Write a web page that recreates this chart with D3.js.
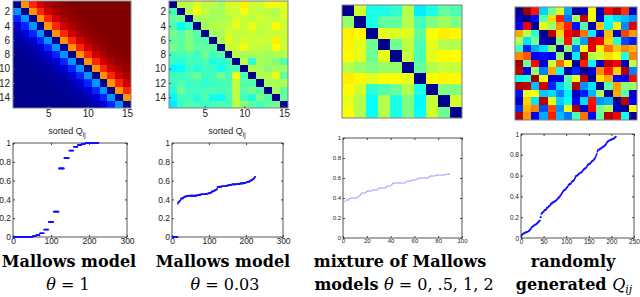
<!DOCTYPE html>
<html><head><meta charset="utf-8">
<script src="https://cdn.jsdelivr.net/npm/d3@7"></script>
<style>body{margin:0;background:#fff}svg{display:block}</style>
</head><body>
<script>
// ---- DATA ----
// Mallows model theta = 1 (pairwise matrix Q_ij)
const qMallows1 = [
 [0,.73,.84,.92,.96,.98,.99,1,1,1,1,1,1,1,1],
 [.27,0,.73,.84,.92,.96,.98,.99,1,1,1,1,1,1,1],
 [.16,.27,0,.73,.84,.92,.96,.98,.99,1,1,1,1,1,1],
 [.08,.16,.27,0,.73,.84,.92,.96,.98,.99,1,1,1,1,1],
 [.04,.08,.16,.27,0,.73,.84,.92,.96,.98,.99,1,1,1,1],
 [.02,.04,.08,.16,.27,0,.73,.84,.92,.96,.98,.99,1,1,1],
 [.01,.02,.04,.08,.16,.27,0,.73,.84,.92,.96,.98,.99,1,1],
 [0,.01,.02,.04,.08,.16,.27,0,.73,.84,.92,.96,.98,.99,1],
 [0,0,.01,.02,.04,.08,.16,.27,0,.73,.84,.92,.96,.98,.99],
 [0,0,0,.01,.02,.04,.08,.16,.27,0,.73,.84,.92,.96,.98],
 [0,0,0,0,.01,.02,.04,.08,.16,.27,0,.73,.84,.92,.96],
 [0,0,0,0,0,.01,.02,.04,.08,.16,.27,0,.73,.84,.92],
 [0,0,0,0,0,0,.01,.02,.04,.08,.16,.27,0,.73,.84],
 [0,0,0,0,0,0,0,.01,.02,.04,.08,.16,.27,0,.73],
 [0,0,0,0,0,0,0,0,.01,.02,.04,.08,.16,.27,0]
];
// Mallows model theta = 0.03
const qMallows003 = [
 [0,.56,.55,.59,.56,.555,.53,.58,.585,.64,.575,.57,.61,.62,.6],
 [.44,0,.555,.62,.565,.54,.535,.58,.565,.615,.57,.565,.56,.545,.59],
 [.47,.49,0,.535,.54,.53,.545,.55,.59,.57,.56,.585,.565,.56,.59],
 [.45,.38,.43,0,.535,.555,.55,.565,.6,.57,.605,.565,.57,.63,.575],
 [.49,.455,.5,.46,0,.53,.54,.59,.56,.565,.575,.56,.57,.565,.575],
 [.465,.47,.495,.46,.455,0,.54,.6,.565,.585,.57,.58,.575,.64,.57],
 [.5,.46,.505,.47,.465,.47,0,.56,.585,.61,.57,.565,.56,.625,.575],
 [.44,.445,.455,.43,.485,.44,.455,0,.555,.535,.54,.545,.53,.54,.555],
 [.43,.41,.44,.435,.445,.405,.415,.44,0,.56,.42,.54,.535,.505,.455],
 [.37,.375,.435,.41,.44,.43,.39,.44,.445,0,.55,.54,.51,.535,.53],
 [.44,.435,.445,.48,.435,.44,.485,.44,.61,.45,0,.545,.555,.6,.465],
 [.435,.45,.43,.44,.42,.435,.44,.45,.555,.46,.455,0,.54,.535,.545],
 [.41,.485,.44,.435,.445,.45,.44,.455,.56,.455,.49,.46,0,.54,.47],
 [.37,.44,.44,.41,.455,.39,.385,.445,.56,.44,.41,.495,.455,0,.475],
 [.355,.43,.455,.44,.435,.44,.455,.44,.55,.51,.46,.44,.465,.485,0]
];
// mixture of Mallows models theta = 0,.5,1,2
const qMixture = [
 [0,.58,.4,.4,.42,.55,.36,.4,.47,.45],
 [.52,0,.4,.47,.47,.55,.44,.5,.53,.5],
 [.64,.63,0,.6,.59,.59,.47,.62,.64,.63],
 [.635,.6,.48,0,.48,.56,.45,.6,.55,.55],
 [.63,.6,.48,.6,0,.57,.45,.6,.63,.625],
 [.55,.52,.5,.52,.52,0,.47,.55,.57,.57],
 [.64,.63,.6,.62,.62,.6,0,.62,.635,.63],
 [.63,.58,.42,.45,.48,.55,.4,0,.5,.5],
 [.6,.55,.38,.55,.4,.5,.37,.57,0,.58],
 [.62,.55,.38,.55,.4,.5,.38,.58,.48,0]
];
// randomly generated Q_ij
const qRandom = [
 [0,.97,.86,.33,.48,.59,.29,.02,.05,.63,.035,.88,.95,.83,.045],
 [.06,0,.13,.46,.66,.85,.24,.54,.93,.61,.07,.39,.34,.31,.27],
 [.11,.89,0,.6,.53,.73,.84,.14,.45,.03,.68,.37,.64,.26,.9],
 [.71,.56,.42,0,.94,.66,.89,.92,.76,.36,.08,.69,.055,.81,.72],
 [.55,.35,.49,.04,0,.5,.86,.44,.28,.91,.87,.67,.41,.2,.15],
 [.43,.16,.29,.35,.52,0,.51,.23,.62,.9,.64,.77,.68,.74,.7],
 [.74,.79,.1,.14,.12,.52,0,.36,.96,.55,.58,.66,.62,.4,.75],
 [.975,.48,.87,.065,.57,.78,.63,0,.85,.37,.06,.94,.88,.04,.56],
 [.94,.09,.52,.25,.71,.39,.045,.16,0,.075,.74,.85,.67,.95,.25],
 [.38,.41,.97,.63,.085,.105,.47,.6,.93,0,.65,.71,.13,.115,.87],
 [.96,.93,.31,.92,.16,.33,.43,.945,.27,.35,0,.46,.72,.51,.52],
 [.135,.6,.62,.32,.34,.25,.36,.055,.15,.3,.54,0,.71,.46,.05],
 [.06,.67,.35,.945,.6,.33,.38,.125,.34,.86,.27,.3,0,.94,.12],
 [.17,.7,.75,.2,.8,.27,.61,.955,.055,.88,.49,.55,.065,0,.63],
 [.955,.73,.11,.29,.85,.31,.24,.45,.76,.13,.47,.95,.88,.39,0]
];
const heatYTicks = [2,4,6,8,10,12,14];
const heatXTicks = [5,10,15];
const yTicks = [0,0.2,0.4,0.6,0.8,1];
const xTicks300 = [0,100,200,300];
const xTicks100 = [0,20,40,60,80,100];
const xTicks250 = [0,50,100,150,200,250];
const captionLine1 = ["Mallows model","Mallows model","mixture of Mallows","randomly"];

// ---- DRAWING ----
const svg = d3.select("body").append("svg").attr("width",640).attr("height",297)
  .style("font-family","'Liberation Sans', Arial, sans-serif");

const jet = d3.scaleLinear()
  .domain([0,0.125,0.375,0.625,0.875,1])
  .range(["#00008f","#0000ff","#00ffff","#ffff00","#ff0000","#800000"])
  .clamp(true);

function styleAxis(g, fs){
  g.select(".domain").remove();
  g.selectAll(".tick line").attr("stroke","#444");
  g.selectAll(".tick text").attr("fill","#222").style("font-size",fs+"px");
}

function heatmap(m, b, showAxes){
  const n = m.length;
  const x = d3.scaleBand().domain(d3.range(1,n+1)).range([b.x0,b.x1]);
  const y = d3.scaleBand().domain(d3.range(1,n+1)).range([b.y0,b.y1]);
  const g = svg.append("g");
  const cells = m.flatMap((row,i)=>row.map((v,j)=>({r:i+1,c:j+1,v})));
  g.selectAll("rect.cell").data(cells).join("rect").attr("class","cell")
    .attr("x",d=>x(d.c)).attr("y",d=>y(d.r))
    .attr("width",x.bandwidth()+0.4).attr("height",y.bandwidth()+0.4)
    .attr("fill",d=>jet(d.v)).attr("shape-rendering","crispEdges");
  if(showAxes){
    const xl = d3.scaleLinear().domain([0.5,n+0.5]).range([b.x0,b.x1]);
    const yl = d3.scaleLinear().domain([0.5,n+0.5]).range([b.y0,b.y1]);
    g.append("g").attr("transform",`translate(${b.x0},0)`)
      .call(d3.axisLeft(yl).tickValues(heatYTicks).tickSize(-2).tickPadding(3))
      .call(a=>styleAxis(a,10));
    g.append("g").attr("transform",`translate(0,${b.y1})`)
      .call(d3.axisBottom(xl).tickValues(heatXTicks).tickSize(-2).tickPadding(2))
      .call(a=>styleAxis(a,10));
  }
  g.append("rect").attr("x",b.x0).attr("y",b.y0).attr("width",b.x1-b.x0).attr("height",b.y1-b.y0)
    .attr("fill","none").attr("stroke","#808080").attr("stroke-width",1);
}

function sortedPlot(vals, b, xDomain, xTicks, fs, mode){
  const x = d3.scaleLinear().domain(xDomain).range([b.x0,b.x1]);
  const y = d3.scaleLinear().domain([0,1]).range([b.y1,b.y0]);
  const g = svg.append("g");
  g.append("rect").attr("x",b.x0).attr("y",b.y0).attr("width",b.x1-b.x0).attr("height",b.y1-b.y0)
    .attr("fill","#fff").attr("stroke","#555").attr("stroke-width",1);
  g.append("g").attr("transform",`translate(0,${b.y1})`)
    .call(d3.axisBottom(x).tickValues(xTicks).tickSize(-2).tickPadding(1).tickFormat(d3.format("d")))
    .call(a=>styleAxis(a,fs));
  g.append("g").attr("transform",`translate(${b.x0},0)`)
    .call(d3.axisLeft(y).tickValues(yTicks).tickSize(-2).tickPadding(2).tickFormat(d3.format("~g")))
    .call(a=>styleAxis(a,fs));
  g.append("g").attr("transform",`translate(0,${b.y0})`)
    .call(d3.axisTop(x).tickValues(xTicks).tickSize(-2).tickFormat(""))
    .call(a=>styleAxis(a,fs));
  g.append("g").attr("transform",`translate(${b.x1},0)`)
    .call(d3.axisRight(y).tickValues(yTicks).tickSize(-2).tickFormat(""))
    .call(a=>styleAxis(a,fs));
  const pts = vals.map((v,k)=>[k+1,v]);
  if(mode==="line"){
    g.append("path").datum(pts).attr("fill","none").attr("stroke","#8c8cff").attr("stroke-width",1)
      .attr("d",d3.line().x(d=>x(d[0])).y(d=>y(d[1])));
  } else {
    g.selectAll("circle").data(pts).join("circle")
      .attr("cx",d=>x(d[0])).attr("cy",d=>y(d[1])).attr("r",0.85).attr("fill","#1010ff");
  }
  return g;
}

function sortedValues(m, withDiag){
  const out = [];
  m.forEach((row,i)=>row.forEach((v,j)=>{ if(withDiag || i!==j) out.push(v); }));
  return d3.sort(out);
}

heatmap(qMallows1, {x0:13,x1:131,y0:1,y1:108}, true);
heatmap(qMallows003, {x0:169,x1:288,y0:1,y1:108}, true);
heatmap(qMixture, {x0:342,x1:462,y0:5,y1:118}, false);
heatmap(qRandom, {x0:515,x1:637,y0:7,y1:120}, false);

sortedPlot(sortedValues(qMallows1,true), {x0:13,x1:127,y0:143,y1:237}, [0,300], xTicks300, 8.5, "dots");
sortedPlot(sortedValues(qMallows003,true), {x0:172,x1:283,y0:143,y1:237}, [0,300], xTicks300, 8.5, "dots");
sortedPlot(sortedValues(qMixture,false), {x0:343,x1:462,y0:138,y1:238}, [0,100], xTicks100, 6, "line");
sortedPlot(sortedValues(qRandom,false), {x0:521,x1:634,y0:134,y1:238}, [0,250], xTicks250, 6.5, "dots");

// "sorted Q_ij" titles
[[67,134],[227,134]].forEach(([cx,by])=>{
  const t = svg.append("text").attr("x",cx).attr("y",by).attr("text-anchor","middle")
    .style("font-size","9px").attr("fill","#222");
  t.append("tspan").text("sorted Q");
  t.append("tspan").attr("dy",2.5).style("font-size","6.5px").text("ij");
});

// captions
const serif = "'DejaVu Serif', 'Liberation Serif', serif";
const capX = [69,223,400,573];
captionLine1.forEach((s,i)=>{
  svg.append("text").attr("x",capX[i]).attr("y",267).attr("text-anchor","middle")
    .style("font-family",serif).style("font-weight","bold").style("font-size","16px").text(s);
});
function mathLine(cx, parts){
  const t = svg.append("text").attr("x",cx).attr("y",290).attr("text-anchor","middle")
    .style("font-family",serif).style("font-size","16px");
  parts.forEach(p=>{
    const ts = t.append("tspan").text(p.t);
    if(p.b) ts.style("font-weight","bold");
    if(p.i) ts.style("font-style","italic");
    if(p.dy) ts.attr("dy",p.dy);
    if(p.fs) ts.style("font-size",p.fs);
  });
}
mathLine(68,[{t:"θ",i:1},{t:" = 1"}]);
mathLine(225,[{t:"θ",i:1},{t:" = 0.03"}]);
mathLine(404,[{t:"models ",b:1},{t:"θ",i:1},{t:" = 0, .5, 1, 2"}]);
mathLine(574,[{t:"generated ",b:1},{t:"Q",i:1},{t:"ij",i:1,dy:3,fs:"11px"}]);
</script>
</body></html>
